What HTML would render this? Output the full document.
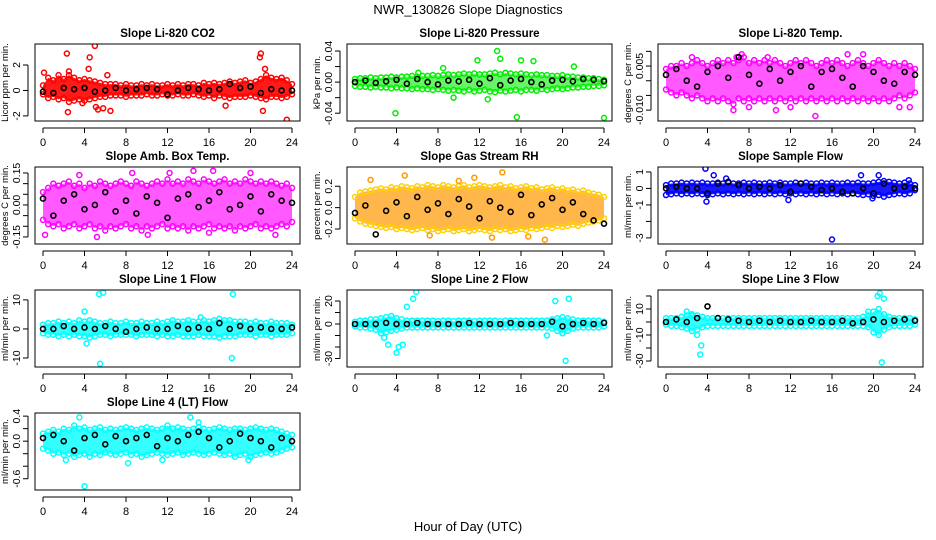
<!DOCTYPE html>
<html><head><meta charset="utf-8"><style>
html,body{margin:0;padding:0;background:#fff;}
svg{display:block;font-family:"Liberation Sans",Arial,sans-serif;}
</style></head><body>
<svg id="c" width="936" height="540" viewBox="0 0 936 540">
<text x="468" y="14" font-size="13" text-anchor="middle">NWR_130826  Slope Diagnostics</text>
<text x="468" y="531" font-size="13" text-anchor="middle">Hour of Day (UTC)</text>
</svg>
<script>
const bandHours=[0,0.5,1,1.5,2,2.5,3,3.5,4,4.5,5,5.5,6,6.5,7,7.5,8,8.5,9,9.5,10,10.5,11,11.5,12,12.5,13,13.5,14,14.5,15,15.5,16,16.5,17,17.5,18,18.5,19,19.5,20,20.5,21,21.5,22,22.5,23,23.5,24];
const blackHours=[0,1,2,3,4,5,6,7,8,9,10,11,12,13,14,15,16,17,18,19,20,21,22,23,24];
const xTicks=[0,4,8,12,16,20,24];

const titles=["Slope Li-820 CO2","Slope Li-820 Pressure","Slope Li-820 Temp.","Slope Amb. Box Temp.","Slope Gas Stream RH","Slope Sample Flow","Slope Line 1 Flow","Slope Line 2 Flow","Slope Line 3 Flow","Slope Line 4 (LT) Flow"];
const yTitles=["Licor ppm per min.","kPa per min.","degrees C per min.","degrees C per min.","percent per min.","ml/min per min.","ml/min per min.","ml/min per min.","ml/min per min.","ml/min per min."];
const yDomains=[[-2.4,3.65],[-0.050,0.049],[-0.0137,0.0125],[-0.183,0.178],[-0.34,0.38],[-3.37,1.3],[-13.1,13.4],[-37.4,29.6],[-34.6,24.6],[-0.78,0.45]];
const yTicks=[[-2,0,2],[-0.04,-0.02,0,0.02,0.04],[-0.01,-0.005,0,0.005,0.01],[-0.15,-0.1,-0.05,0,0.05,0.1,0.15],[-0.2,0,0.2],[-3,-2,-1,0,1],[-10,0,10],[-30,-20,-10,0,10,20],[-30,-20,-10,0,10,20],[-0.6,-0.4,-0.2,0,0.2,0.4]];
const yTickLabels=[["-2","0","2"],["-0.04","","0.00","","0.04"],["-0.010","","","0.005",""],["-0.15","","","0.00","","","0.15"],["-0.2","0.0","0.2"],["-3","","-1","0","1"],["-10","0","10"],["-30","","","0","","20"],["-30","","-10","","10",""],["-0.6","","","0.0","","0.4"]];
const colors=["#ff0000","#00ee00","#ff00ff","#ff00ff","#ff9900","#0000ff","#00ffff","#00ffff","#00ffff","#00ffff"];
const bandOpacity=[0.9,0.6,0.65,0.65,0.7,0.9,0.8,0.8,0.8,0.8];

const hi1=[0.4,1.0,0.8,1.2,0.9,1.2,1.0,0.8,0.9,0.8,0.7,0.6,0.5,0.5,0.5,0.4,0.5,0.4,0.4,0.5,0.4,0.5,0.4,0.4,0.5,0.4,0.5,0.4,0.5,0.5,0.4,0.6,0.5,0.6,0.5,0.6,0.7,0.6,0.7,0.8,0.6,0.7,0.9,1.2,1.0,0.9,1.0,0.8,0.5];
const lo1=[-0.3,-0.6,-0.5,-0.7,-0.6,-0.9,-0.8,-0.7,-0.8,-0.7,-0.6,-0.5,-0.5,-0.4,-0.4,-0.4,-0.5,-0.4,-0.4,-0.4,-0.3,-0.4,-0.4,-0.3,-0.4,-0.4,-0.3,-0.4,-0.4,-0.3,-0.4,-0.5,-0.4,-0.6,-0.4,-0.5,-0.6,-0.5,-0.5,-0.5,-0.4,-0.5,-0.6,-0.7,-0.5,-0.5,-0.6,-0.5,-0.3];
const outX1=[0.1,2.3,2.4,2.5,4.4,4.5,5.0,5.1,5.3,5.8,6.2,6.5,20.9,21.0,21.2,21.4,23.5,3.8,17.6];
const outY1=[1.4,2.9,-1.7,1.5,1.7,2.6,3.5,-1.3,-1.5,-1.4,1.2,-1.6,2.6,2.9,-1.6,1.7,-2.3,-1.0,-1.2];
const blk1=[-0.1,-0.2,0.2,0.1,0.2,-0.1,0.0,0.2,0.0,0.1,0.2,0.1,-0.3,0.0,0.2,0.1,0.0,0.1,0.5,0.2,0.3,-0.2,0.1,0.0,0.0];

const hi2=[0.004,0.005,0.005,0.006,0.005,0.006,0.006,0.007,0.006,0.007,0.007,0.008,0.007,0.008,0.008,0.009,0.008,0.009,0.010,0.009,0.010,0.011,0.010,0.011,0.010,0.010,0.011,0.012,0.010,0.012,0.011,0.010,0.011,0.010,0.009,0.010,0.009,0.009,0.008,0.008,0.009,0.007,0.007,0.006,0.006,0.005,0.005,0.004,0.003];
const lo2=[-0.005,-0.006,-0.006,-0.007,-0.006,-0.007,-0.007,-0.008,-0.007,-0.008,-0.008,-0.009,-0.008,-0.009,-0.009,-0.010,-0.009,-0.010,-0.011,-0.010,-0.011,-0.012,-0.010,-0.012,-0.011,-0.010,-0.012,-0.013,-0.011,-0.012,-0.011,-0.010,-0.012,-0.010,-0.010,-0.011,-0.009,-0.010,-0.009,-0.008,-0.009,-0.008,-0.007,-0.007,-0.006,-0.006,-0.005,-0.005,-0.004];
const outX2=[3.9,8.5,11.8,13.7,14.0,15.6,16.0,17.2,21.1,24.0,6.1,9.5,12.8];
const outY2=[-0.040,0.018,0.028,0.040,0.030,-0.045,0.028,0.027,0.020,-0.046,0.012,-0.020,-0.022];
const blk2=[0.000,0.002,-0.001,0.001,0.003,-0.002,0.004,0.000,-0.003,0.002,0.001,0.003,-0.002,0.005,-0.004,0.002,0.004,0.000,-0.003,0.002,0.003,0.001,0.004,0.003,0.001];

const hi3=[0.004,0.005,0.005,0.006,0.005,0.006,0.007,0.006,0.005,0.006,0.007,0.006,0.007,0.006,0.007,0.008,0.006,0.007,0.006,0.007,0.006,0.007,0.006,0.005,0.006,0.007,0.006,0.007,0.006,0.005,0.006,0.007,0.006,0.007,0.006,0.005,0.006,0.007,0.006,0.005,0.006,0.007,0.006,0.005,0.006,0.005,0.006,0.005,0.004];
const lo3=[-0.003,-0.004,-0.005,-0.004,-0.005,-0.006,-0.005,-0.006,-0.007,-0.006,-0.007,-0.006,-0.007,-0.008,-0.006,-0.007,-0.006,-0.007,-0.006,-0.007,-0.006,-0.007,-0.006,-0.007,-0.006,-0.007,-0.006,-0.007,-0.006,-0.007,-0.006,-0.007,-0.006,-0.007,-0.006,-0.007,-0.006,-0.007,-0.006,-0.007,-0.006,-0.007,-0.006,-0.007,-0.006,-0.005,-0.006,-0.005,-0.004];
const outX3=[2.5,6.5,7.3,8.0,9.8,10.6,12.0,14.4,17.5,19.0,22.5,23.5,6.8];
const outY3=[0.008,-0.010,0.009,-0.009,0.008,-0.010,-0.009,-0.012,0.009,0.009,-0.009,-0.009,0.008];
const blk3=[0.002,0.004,0.000,-0.002,0.003,0.005,0.001,0.008,0.002,-0.001,0.004,0.000,0.003,0.005,-0.002,0.003,0.004,0.001,-0.002,0.005,0.003,0.000,-0.001,0.003,0.002];

const hi4=[0.06,0.08,0.10,0.09,0.10,0.11,0.09,0.10,0.08,0.10,0.09,0.11,0.10,0.09,0.10,0.11,0.10,0.09,0.11,0.10,0.09,0.10,0.11,0.10,0.12,0.10,0.11,0.10,0.12,0.11,0.10,0.12,0.11,0.10,0.11,0.12,0.10,0.11,0.10,0.12,0.11,0.10,0.11,0.10,0.11,0.10,0.09,0.10,0.08];
const lo4=[-0.07,-0.09,-0.10,-0.09,-0.11,-0.10,-0.09,-0.11,-0.10,-0.09,-0.11,-0.10,-0.12,-0.10,-0.11,-0.10,-0.09,-0.11,-0.10,-0.12,-0.10,-0.11,-0.10,-0.09,-0.11,-0.10,-0.11,-0.10,-0.12,-0.10,-0.11,-0.10,-0.09,-0.11,-0.10,-0.11,-0.10,-0.12,-0.10,-0.11,-0.10,-0.09,-0.11,-0.10,-0.11,-0.10,-0.09,-0.10,-0.08];
const outX4=[0.2,3.5,5.2,8.6,10.1,14.5,16.0,16.4,20.0,22.4,12.2];
const outY4=[-0.14,0.14,-0.15,0.15,-0.14,0.16,-0.13,0.16,0.15,-0.14,0.15];
const blk4=[0.03,-0.05,0.02,0.05,-0.02,0.00,0.06,-0.03,0.02,-0.04,0.04,0.01,-0.06,0.03,0.05,-0.01,0.02,0.06,-0.02,0.00,0.04,-0.03,0.05,0.02,0.01];

const hi5=[0.10,0.14,0.15,0.16,0.17,0.18,0.17,0.19,0.18,0.20,0.19,0.18,0.20,0.19,0.21,0.20,0.19,0.21,0.20,0.19,0.20,0.21,0.19,0.20,0.21,0.20,0.19,0.20,0.21,0.19,0.20,0.18,0.19,0.20,0.18,0.19,0.17,0.18,0.19,0.17,0.18,0.16,0.17,0.15,0.16,0.14,0.13,0.12,0.10];
const lo5=[-0.10,-0.13,-0.15,-0.16,-0.17,-0.18,-0.19,-0.18,-0.20,-0.19,-0.20,-0.21,-0.20,-0.19,-0.21,-0.20,-0.22,-0.21,-0.20,-0.22,-0.21,-0.20,-0.22,-0.21,-0.20,-0.21,-0.22,-0.20,-0.21,-0.20,-0.22,-0.21,-0.20,-0.21,-0.19,-0.20,-0.19,-0.18,-0.19,-0.17,-0.18,-0.17,-0.16,-0.17,-0.15,-0.14,-0.13,-0.12,-0.10];
const outX5=[1.5,4.8,7.2,11.5,14.2,16.7,18.3,13.2,10.0];
const outY5=[0.26,0.30,-0.26,0.28,0.33,-0.27,-0.30,-0.28,0.25];
const blk5=[-0.05,0.02,-0.25,-0.03,0.05,-0.08,0.10,-0.02,0.04,-0.06,0.08,0.01,-0.10,0.06,0.00,-0.04,0.12,-0.07,0.03,0.09,-0.02,0.05,-0.06,-0.12,-0.15];

const hi6=[0.2,0.3,0.3,0.35,0.3,0.35,0.3,0.35,0.3,0.3,0.35,0.3,0.35,0.3,0.3,0.35,0.3,0.35,0.3,0.3,0.35,0.3,0.35,0.3,0.3,0.35,0.3,0.35,0.3,0.3,0.35,0.3,0.35,0.3,0.3,0.35,0.3,0.35,0.3,0.3,0.35,0.4,0.45,0.4,0.35,0.3,0.35,0.3,0.2];
const lo6=[-0.4,-0.35,-0.3,-0.35,-0.3,-0.35,-0.3,-0.35,-0.4,-0.35,-0.3,-0.35,-0.3,-0.35,-0.3,-0.35,-0.3,-0.35,-0.3,-0.35,-0.3,-0.35,-0.3,-0.35,-0.3,-0.35,-0.3,-0.35,-0.3,-0.35,-0.3,-0.35,-0.3,-0.35,-0.3,-0.35,-0.3,-0.35,-0.4,-0.35,-0.45,-0.4,-0.5,-0.4,-0.35,-0.3,-0.35,-0.3,-0.1];
const outX6=[3.8,4.6,5.8,3.9,11.8,16.0,18.8,20.5,23.4,19.9];
const outY6=[1.2,0.8,0.6,-0.8,-0.7,-3.1,0.8,0.8,0.5,-0.6];
const blk6=[0.0,0.1,0.0,0.0,-0.3,0.3,0.4,0.2,0.0,0.1,0.0,0.2,-0.2,0.3,0.1,-0.1,0.0,-0.2,-0.3,0.0,-0.3,0.3,0.0,0.1,0.0];

const hi7=[1.5,2,2,2.5,2,2.5,2,3,2.5,3,2.5,2,2,2.5,2,2,2.5,2,2,2.5,2,2,2.5,2,2.5,3,2.5,2.5,3,2.5,2.5,3,2.5,3,3.5,3,3,2.5,2.5,2.5,2,2.5,2,2,2.5,2,2,2,1.5];
const lo7=[-1.5,-2,-2,-2.5,-2,-2.5,-2,-2.5,-2.5,-3,-2.5,-2,-2,-2.5,-2,-2,-2,-2,-2.5,-2,-2,-2,-2.5,-2,-2.5,-2.5,-2,-2.5,-2.5,-2.5,-2,-2.5,-2.5,-2.5,-3,-2.5,-2.5,-2.5,-2,-2,-2,-2.5,-2,-2,-2.5,-2,-2,-2,-1.5];
const outX7=[4.0,5.4,5.8,5.5,4.2,18.3,18.2,15.2];
const outY7=[6,12,12.5,-12,-5,12,-10,4];
const blk7=[0,0,1,0,0.5,0,1,0,-1,0,0.5,0,0,1,0,0.5,0,2,0,1,0,0.5,0,0,0.5];

const hi8=[2,3,3,4,4,5,6,7,5,4,3,3,3,3,3,3,2.5,3,3,2.5,3,3,3,2.5,3,3,3,3,2.5,3,3,3,3,3,3,3,3,3,4,5,6,5,4,3,3,3,3,3,2];
const lo8=[-2,-3,-3,-4,-5,-8,-7,-6,-5,-4,-3,-3,-3,-3,-3,-3,-3,-3,-3,-3,-3,-3,-3,-3,-3,-3,-3,-3,-3,-3,-3,-3,-3,-3,-3,-3,-3,-3,-4,-6,-8,-6,-4,-3,-3,-3,-3,-3,-2];
const outX8=[2.8,3.2,4.0,4.6,5.0,5.6,5.9,4.2,18.5,19.3,20.3,20.6,20.0];
const outY8=[-12,-18,-25,-18,15,22,28,-20,-10,20,-32,22,-8];
const blk8=[0,0,0,1,0,0,1,0,0,0,0,1,0,0,0,1,0,0,0,2,-2,0,1,0,1];

const hi9=[3,3,3,4,5,6,5,4,3,3,3,3,3,3,3,3,3,3,3,3,3,3,3,3,3,3,3,3,3,3,3,3,3,3,3,3,3,3,4,5,8,10,6,4,3,3,3,3,2];
const lo9=[-2,-3,-3,-4,-5,-7,-6,-4,-3,-3,-3,-3,-3,-3,-3,-3,-3,-3,-3,-3,-3,-3,-3,-3,-3,-3,-3,-3,-3,-3,-3,-3,-3,-3,-3,-3,-3,-3,-3,-4,-8,-10,-6,-4,-3,-3,-3,-3,-2];
const outX9=[2.0,2.5,3.0,3.4,3.3,20.4,20.6,20.8,21.0,19.5];
const outY9=[8,5,-10,-18,-25,20,22,-31,18,8];
const blk9=[0,2,0,3,12,3,2,1,0,1,0,1,0,0,1,0,0,1,-1,0,2,0,1,2,1];

const hi10=[0.12,0.15,0.18,0.15,0.2,0.18,0.25,0.2,0.22,0.18,0.2,0.22,0.18,0.2,0.18,0.2,0.22,0.2,0.18,0.2,0.22,0.2,0.18,0.2,0.25,0.2,0.22,0.2,0.18,0.2,0.22,0.2,0.18,0.2,0.22,0.2,0.18,0.2,0.2,0.18,0.2,0.22,0.2,0.18,0.2,0.18,0.15,0.12,0.1];
const lo10=[-0.12,-0.15,-0.2,-0.18,-0.22,-0.2,-0.25,-0.22,-0.2,-0.25,-0.2,-0.22,-0.18,-0.2,-0.22,-0.2,-0.18,-0.22,-0.2,-0.25,-0.22,-0.2,-0.18,-0.2,-0.22,-0.2,-0.18,-0.22,-0.2,-0.18,-0.2,-0.22,-0.2,-0.18,-0.2,-0.22,-0.2,-0.25,-0.22,-0.2,-0.25,-0.22,-0.2,-0.18,-0.2,-0.18,-0.15,-0.12,-0.1];
const outX10=[3.5,4.0,8.2,14.2,15.0,19.8,2.2,11.5];
const outY10=[0.38,-0.72,-0.35,0.38,0.3,-0.3,-0.3,-0.3];
const blk10=[0.05,0.1,0.0,-0.15,0.05,0.1,-0.05,0.08,0.0,0.05,0.1,-0.08,0.05,0.0,0.1,0.15,0.05,-0.1,0.0,0.12,0.05,0.0,-0.1,0.05,0.0];

const HI=[hi1,hi2,hi3,hi4,hi5,hi6,hi7,hi8,hi9,hi10];
const LO=[lo1,lo2,lo3,lo4,lo5,lo6,lo7,lo8,lo9,lo10];
const OX=[outX1,outX2,outX3,outX4,outX5,outX6,outX7,outX8,outX9,outX10];
const OY=[outY1,outY2,outY3,outY4,outY5,outY6,outY7,outY8,outY9,outY10];
const BLK=[blk1,blk2,blk3,blk4,blk5,blk6,blk7,blk8,blk9,blk10];

const svg=document.getElementById('c');
const NS='http://www.w3.org/2000/svg';
function mk(tag,attrs,parent){const e=document.createElementNS(NS,tag);for(const k in attrs)e.setAttribute(k,attrs[k]);(parent||svg).appendChild(e);return e;}
const colX=[35,347,658], rowY=[44,167,290,413], W=265, H=77;

for(let p=0;p<10;p++){
  const bx=colX[p%3], by=rowY[Math.floor(p/3)];
  const g=mk('g',{});
  
  
  const d=yDomains[p];
  const xs=h=>bx+8+h*(W-16)/24;
  const ys=v=>by+H-(v-d[0])/(d[1]-d[0])*H;
  const clip=mk('clipPath',{id:'cp'+p},g);
  mk('rect',{x:bx,y:by,width:W,height:H},clip);
  const plot=mk('g',{'clip-path':'url(#cp'+p+')'},g);
  const col=colors[p];
  let pts=bandHours.map((h,i)=>xs(h)+','+ys(HI[p][i]));
  pts=pts.concat(bandHours.slice().reverse().map((h,j)=>{const i=bandHours.length-1-j;return xs(h)+','+ys(LO[p][i]);}));
  const band=mk('polygon',{points:pts.join(' '),fill:col,'fill-opacity':bandOpacity[p]},plot);
  
  
  const dotCol = p===4 ? '#ffd000' : col;
  bandHours.forEach((h,i)=>{
    [HI[p][i],LO[p][i]].forEach(v=>{
      const c=mk('circle',{cx:xs(h),cy:ys(v),r:2.5,fill:'none',stroke:dotCol,'stroke-width':1.5},plot);
      
      
    });
  });
  OX[p].forEach((h,i)=>{
    const c=mk('circle',{cx:xs(h),cy:ys(OY[p][i]),r:2.5,fill:'none',stroke:col,'stroke-width':1.5},plot);
    
    
  });
  blackHours.forEach((h,i)=>{
    const c=mk('circle',{cx:xs(h),cy:ys(BLK[p][i]),r:2.5,fill:'none',stroke:'#000','stroke-width':1.6},plot);
    
    
  });
  mk('rect',{x:bx,y:by,width:W,height:H,fill:'none',stroke:'#000','stroke-width':1},g);
  const t=mk('text',{x:bx+W/2,y:by-7,'font-size':11.5,'font-weight':'bold','text-anchor':'middle'},g);
  t.textContent=titles[p];
  
  
  mk('line',{x1:xs(0),x2:xs(24),y1:by+H+7,y2:by+H+7,stroke:'#000'},g);
  xTicks.forEach(v=>{
    mk('line',{x1:xs(v),x2:xs(v),y1:by+H+7,y2:by+H+12,stroke:'#000'},g);
    const tl=mk('text',{x:xs(v),y:by+H+25,'font-size':11,'text-anchor':'middle'},g);
    tl.textContent=v;
    
    
  });
  const yt=yTicks[p];
  mk('line',{x1:bx-7,x2:bx-7,y1:ys(yt[0]),y2:ys(yt[yt.length-1]),stroke:'#000'},g);
  yt.forEach((v,i)=>{
    mk('line',{x1:bx-12,x2:bx-7,y1:ys(v),y2:ys(v),stroke:'#000'},g);
    const lab=yTickLabels[p][i];
    if(lab){
      const tl=mk('text',{x:bx-15,y:ys(v),'font-size':10.5,'text-anchor':'middle',transform:'rotate(-90 '+(bx-15)+' '+ys(v)+')'},g);
      tl.textContent=lab;
      
      
    }
  });
  const ylab=mk('text',{x:bx-27,y:by+H/2,'font-size':9.5,'text-anchor':'middle',transform:'rotate(-90 '+(bx-27)+' '+(by+H/2)+')'},g);
  ylab.textContent=yTitles[p];
  
  
}
</script>
</body></html>
